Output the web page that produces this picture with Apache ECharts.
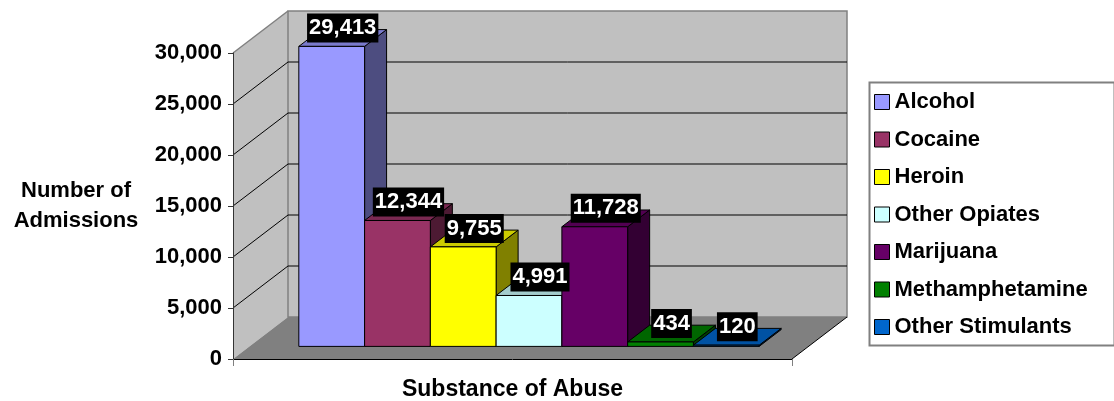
<!DOCTYPE html>
<html>
<head>
<meta charset="utf-8">
<script src="https://cdn.jsdelivr.net/npm/echarts@6/dist/echarts.min.js"></script>
<style>
  html, body { margin: 0; padding: 0; background: #fff; }
  #chart { width: 1114px; height: 401px; }
</style>
</head>
<body>
<div id="chart"></div>
<script>
// data
const categories = ['Substance of Abuse'];
const substances = ['Alcohol', 'Cocaine', 'Heroin', 'Other Opiates', 'Marijuana', 'Methamphetamine', 'Other Stimulants'];
const admissions = [29413, 12344, 9755, 4991, 11728, 434, 120];

const colors = ['#9999FF', '#993366', '#FFFF00', '#CCFFFF', '#660066', '#008000', '#0066CC'];

const FONT = '"Liberation Sans", Arial, sans-serif';
const Y_MAX = 30000;
const Y_STEP = 5000;
// 3d depth of the box, in pixels
const DX = 55;
const DY = 42;
// bars sit between these depth fractions
const F0 = 0.3;
const F1 = 0.7;
const GAP = 1.5; // excel gap width 150%

function shade(hex, k) {
  const n = parseInt(hex.slice(1), 16);
  const r = Math.round(((n >> 16) & 255) * k);
  const g = Math.round(((n >> 8) & 255) * k);
  const b = Math.round((n & 255) * k);
  return 'rgb(' + r + ',' + g + ',' + b + ')';
}

function renderFrame(params, api) {
  const c = api.coord([0, 0]);
  const band = api.size([1, 0])[0];
  const L = c[0] - band / 2;
  const R = c[0] + band / 2;
  const yB = c[1];
  const yT = api.coord([0, Y_MAX])[1];
  const kids = [
    { type: 'polygon', shape: { points: [[L, yB], [L + DX, yB - DY], [L + DX, yT - DY], [L, yT]] },
      style: { fill: '#C0C0C0' } },
    { type: 'polygon', shape: { points: [[L + DX, yT - DY], [R + DX, yT - DY], [R + DX, yB - DY], [L + DX, yB - DY]] },
      style: { fill: '#C0C0C0', stroke: '#808080', lineWidth: 1.5 } },
    { type: 'polygon', shape: { points: [[L, yB], [R, yB], [R + DX, yB - DY], [L + DX, yB - DY]] },
      style: { fill: '#808080' } },
    { type: 'line', shape: { x1: R, y1: yB, x2: R + DX, y2: yB - DY },
      style: { stroke: '#000', lineWidth: 1 } },
    { type: 'line', shape: { x1: L, y1: yT, x2: L + DX, y2: yT - DY },
      style: { stroke: '#808080', lineWidth: 1.5 } }
  ];
  for (let v = Y_STEP; v < Y_MAX; v += Y_STEP) {
    const y = api.coord([0, v])[1];
    kids.push({ type: 'line', shape: { x1: L, y1: y, x2: L + DX, y2: y - DY }, style: { stroke: '#000', lineWidth: 1 } });
    kids.push({ type: 'line', shape: { x1: L + DX, y1: y - DY, x2: R + DX, y2: y - DY }, style: { stroke: '#000', lineWidth: 1 } });
  }
  return { type: 'group', children: kids };
}

function makeBarRenderer(idx) {
  return function (params, api) {
    const val = api.value(1);
    const c = api.coord([0, 0]);
    const band = api.size([1, 0])[0];
    const n = substances.length;
    const cluster = band * n / (n + GAP);
    const bw = cluster / n;
    const x0 = c[0] - cluster / 2 + idx * bw + F0 * DX;
    const y0 = c[1] - F0 * DY;
    const h = api.size([0, val])[1];
    const yTop = y0 - h;
    const ddx = (F1 - F0) * DX;
    const ddy = (F1 - F0) * DY;
    const col = colors[idx];
    const edge = { stroke: '#000', lineWidth: 1 };
    return {
      type: 'group',
      children: [
        { type: 'polygon', shape: { points: [[x0 + bw, y0], [x0 + bw, yTop], [x0 + bw + ddx, yTop - ddy], [x0 + bw + ddx, y0 - ddy]] },
          style: Object.assign({ fill: shade(col, 0.5) }, edge) },
        { type: 'polygon', shape: { points: [[x0, yTop], [x0 + bw, yTop], [x0 + bw + ddx, yTop - ddy], [x0 + ddx, yTop - ddy]] },
          style: Object.assign({ fill: shade(col, 0.8) }, edge) },
        { type: 'rect', shape: { x: x0, y: yTop, width: bw, height: h },
          style: Object.assign({ fill: col }, edge) },
        { type: 'text', x: x0 + bw / 2 + ddx / 2, y: yTop - ddy / 2 - 10, z2: 100,
          style: {
            text: val.toLocaleString('en-US'),
            fill: '#fff',
            font: 'bold 22px ' + FONT,
            backgroundColor: '#000',
            padding: [4, 2, 3, 2],
            align: 'center',
            verticalAlign: 'middle'
          } }
      ]
    };
  };
}

const series = [{
  type: 'custom',
  silent: true,
  z: 1,
  renderItem: renderFrame,
  encode: { x: 0, y: 1 },
  data: [[0, 0]]
}];

substances.forEach(function (name, i) {
  series.push({
    name: name,
    type: 'custom',
    z: 2,
    silent: true,
    itemStyle: { color: colors[i] },
    renderItem: makeBarRenderer(i),
    encode: { x: 0, y: 1 },
    data: [[0, admissions[i]]]
  });
});

const chart = echarts.init(document.getElementById('chart'));
chart.setOption({
  animation: false,
  textStyle: { fontFamily: FONT },
  grid: { left: 233, right: 322, top: 53, bottom: 41, containLabel: false },
  xAxis: {
    type: 'category',
    data: categories,
    boundaryGap: true,
    z: 10,
    axisLine: { lineStyle: { color: '#000', width: 1 } },
    axisTick: { show: true, length: 7, lineStyle: { color: '#808080' } },
    axisLabel: { margin: 19, fontSize: 23, fontWeight: 'bold', color: '#000', fontFamily: FONT },
    splitLine: { show: false }
  },
  yAxis: {
    type: 'value',
    min: 0,
    max: Y_MAX,
    interval: Y_STEP,
    z: 10,
    name: 'Number of\nAdmissions',
    nameLocation: 'middle',
    nameRotate: 0,
    nameGap: 157,
    nameTextStyle: { fontSize: 22, fontWeight: 'bold', color: '#000', align: 'center', verticalAlign: 'middle', lineHeight: 30, padding: [6, 0, 0, 0], fontFamily: FONT },
    axisLine: { show: true, lineStyle: { color: '#333', width: 1 } },
    axisTick: { show: true, length: 5, lineStyle: { color: '#333' } },
    axisLabel: {
      margin: 11,
      fontSize: 22,
      fontWeight: 'bold',
      color: '#000',
      fontFamily: FONT,
      formatter: function (v) { return v.toLocaleString('en-US'); }
    },
    splitLine: { show: false }
  },
  legend: {
    orient: 'vertical',
    left: 874,
    top: 91,
    padding: 0,
    itemWidth: 15,
    itemHeight: 15,
    itemGap: 15.5,
    itemTextGap: 11,
    icon: 'rect',
    selectedMode: false,
    data: substances,
    itemStyle: { borderColor: '#000', borderWidth: 1 },
    textStyle: { fontSize: 22, fontWeight: 'bold', color: '#000', lineHeight: 22, fontFamily: FONT }
  },
  graphic: [{
    type: 'rect',
    left: 867,
    top: 80,
    shape: { width: 245, height: 263 },
    style: { fill: 'none', stroke: '#808080', lineWidth: 2 },
    z: -1
  }],
  series: series
});
</script>
</body>
</html>
